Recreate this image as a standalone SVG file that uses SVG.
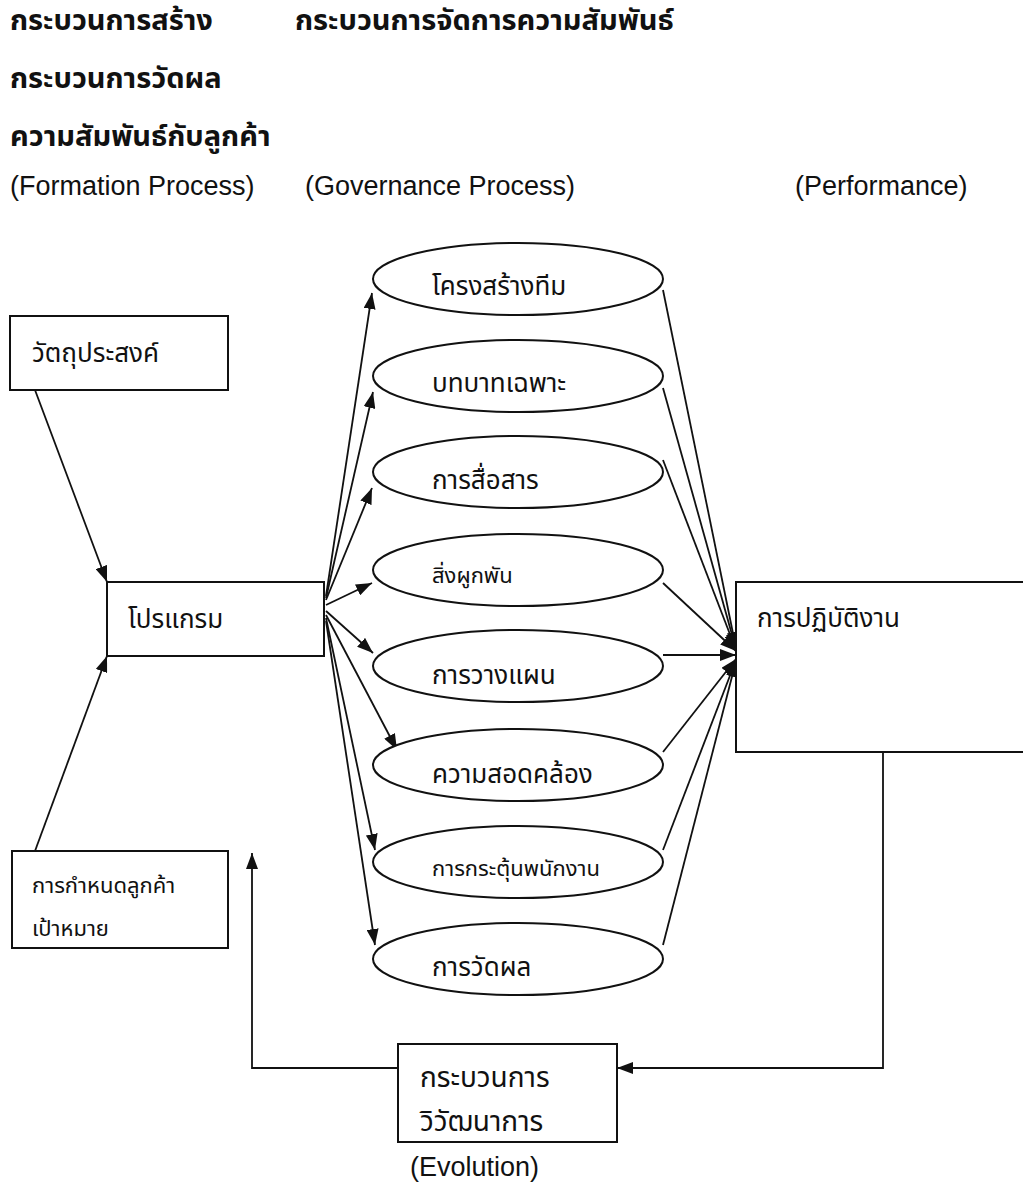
<svg xmlns="http://www.w3.org/2000/svg" width="1023" height="1185" viewBox="0 0 1023 1185">
  <style>
    .th { font-family: "Noto Sans Thai", "Noto Sans Thai Looped", "Noto Serif Thai", "Noto Sans", "DejaVu Sans", sans-serif; fill: #111; }
    .title { font-size: 29px; font-weight: bold; }
    .lbl { font-size: 26px; }
    .sm { font-size: 22px; }
    .big { font-size: 28px; }
    .en { font-family: "Liberation Sans", Arial, sans-serif; font-size: 27px; fill: #111; }
    .box { fill: #fff; stroke: #111; stroke-width: 2; }
    .oval { fill: #fff; stroke: #111; stroke-width: 2; }
    .wire { fill: none; stroke: #111; stroke-width: 1.8; }
  </style>
  <defs>
    <marker id="arrow" markerUnits="userSpaceOnUse" markerWidth="16" markerHeight="12" refX="16" refY="6" orient="auto">
      <path d="M0,0 L16,6 L0,12 z" fill="#111"/>
    </marker>
  </defs>
  <rect width="1023" height="1185" fill="#fff"/>

  <!-- column headings -->
  <g id="headings">
    <text class="th title" x="10" y="30">กระบวนการสร้าง</text>
    <text class="th title" x="295" y="30">กระบวนการจัดการความสัมพันธ์</text>
    <text class="th title" x="10" y="88">กระบวนการวัดผล</text>
    <text class="th title" x="10" y="146">ความสัมพันธ์กับลูกค้า</text>
    <text class="en" x="10" y="195">(Formation Process)</text>
    <text class="en" x="305" y="195">(Governance Process)</text>
    <text class="en" x="795" y="195">(Performance)</text>
  </g>

  <!-- connectors -->
  <g id="connectors">
    <!-- inputs to the programme -->
    <line class="wire" x1="35" y1="390" x2="107" y2="582" marker-end="url(#arrow)"/>
    <line class="wire" x1="35" y1="851" x2="107" y2="656" marker-end="url(#arrow)"/>
    <!-- programme fan-out to governance elements -->
    <line class="wire" x1="326" y1="596" x2="372" y2="293" marker-end="url(#arrow)"/>
    <line class="wire" x1="326" y1="598" x2="373" y2="392" marker-end="url(#arrow)"/>
    <line class="wire" x1="326" y1="600" x2="372" y2="488" marker-end="url(#arrow)"/>
    <line class="wire" x1="326" y1="605" x2="372" y2="583" marker-end="url(#arrow)"/>
    <line class="wire" x1="326" y1="611" x2="373" y2="653" marker-end="url(#arrow)"/>
    <line class="wire" x1="326" y1="615" x2="397" y2="750" marker-end="url(#arrow)"/>
    <line class="wire" x1="326" y1="618" x2="375" y2="850" marker-end="url(#arrow)"/>
    <line class="wire" x1="326" y1="621" x2="375" y2="945" marker-end="url(#arrow)"/>
    <!-- governance elements converge on performance -->
    <line class="wire" x1="663" y1="290" x2="736" y2="648" marker-end="url(#arrow)"/>
    <line class="wire" x1="663" y1="388" x2="736" y2="649" marker-end="url(#arrow)"/>
    <line class="wire" x1="663" y1="460" x2="736" y2="650" marker-end="url(#arrow)"/>
    <line class="wire" x1="663" y1="583" x2="736" y2="651" marker-end="url(#arrow)"/>
    <line class="wire" x1="663" y1="655" x2="736" y2="655" marker-end="url(#arrow)"/>
    <line class="wire" x1="663" y1="752" x2="736" y2="659" marker-end="url(#arrow)"/>
    <line class="wire" x1="663" y1="850" x2="736" y2="660" marker-end="url(#arrow)"/>
    <line class="wire" x1="663" y1="945" x2="736" y2="661" marker-end="url(#arrow)"/>
    <!-- feedback loop -->
    <polyline class="wire" points="883,752 883,1068 617,1068" marker-end="url(#arrow)"/>
    <polyline class="wire" points="398,1068 252,1068 252,853" marker-end="url(#arrow)"/>
  </g>

  <g id="objective">
    <rect class="box" x="10" y="316" width="218" height="74"/>
    <text class="th lbl" x="32" y="362">วัตถุประสงค์</text>
  </g>
  <g id="program">
    <rect class="box" x="107" y="582" width="217" height="74"/>
    <text class="th lbl" x="128" y="628">โปรแกรม</text>
  </g>
  <g id="target-customer">
    <rect class="box" x="12" y="851" width="216" height="97"/>
    <text class="th sm" x="32" y="893">การกำหนดลูกค้า</text>
    <text class="th sm" x="32" y="936">เป้าหมาย</text>
  </g>

  <g id="team-structure">
    <ellipse class="oval" cx="518" cy="279" rx="145" ry="36"/>
    <text class="th lbl" x="432" y="295">โครงสร้างทีม</text>
  </g>
  <g id="specific-roles">
    <ellipse class="oval" cx="518" cy="376" rx="145" ry="36"/>
    <text class="th lbl" x="432" y="392">บทบาทเฉพาะ</text>
  </g>
  <g id="communication">
    <ellipse class="oval" cx="518" cy="472" rx="145" ry="36"/>
    <text class="th lbl" x="432" y="489">การสื่อสาร</text>
  </g>
  <g id="commitment">
    <ellipse class="oval" cx="518" cy="570" rx="145" ry="36"/>
    <text class="th sm" x="432" y="583">สิ่งผูกพัน</text>
  </g>
  <g id="planning">
    <ellipse class="oval" cx="518" cy="666" rx="145" ry="36"/>
    <text class="th lbl" x="432" y="684">การวางแผน</text>
  </g>
  <g id="alignment">
    <ellipse class="oval" cx="518" cy="765" rx="145" ry="36"/>
    <text class="th lbl" x="432" y="783">ความสอดคล้อง</text>
  </g>
  <g id="motivation">
    <ellipse class="oval" cx="518" cy="862" rx="145" ry="36"/>
    <text class="th sm" x="432" y="876">การกระตุ้นพนักงาน</text>
  </g>
  <g id="measurement">
    <ellipse class="oval" cx="518" cy="959" rx="145" ry="36"/>
    <text class="th lbl" x="432" y="976">การวัดผล</text>
  </g>

  <g id="performance">
    <rect class="box" x="736" y="582" width="300" height="170"/>
    <text class="th lbl" x="757" y="627">การปฏิบัติงาน</text>
  </g>

  <g id="evolution">
    <rect class="box" x="398" y="1044" width="219" height="98"/>
    <text class="th big" x="420" y="1087">กระบวนการ</text>
    <text class="th big" x="420" y="1131">วิวัฒนาการ</text>
    <text class="en" x="410" y="1176">(Evolution)</text>
  </g>
</svg>
